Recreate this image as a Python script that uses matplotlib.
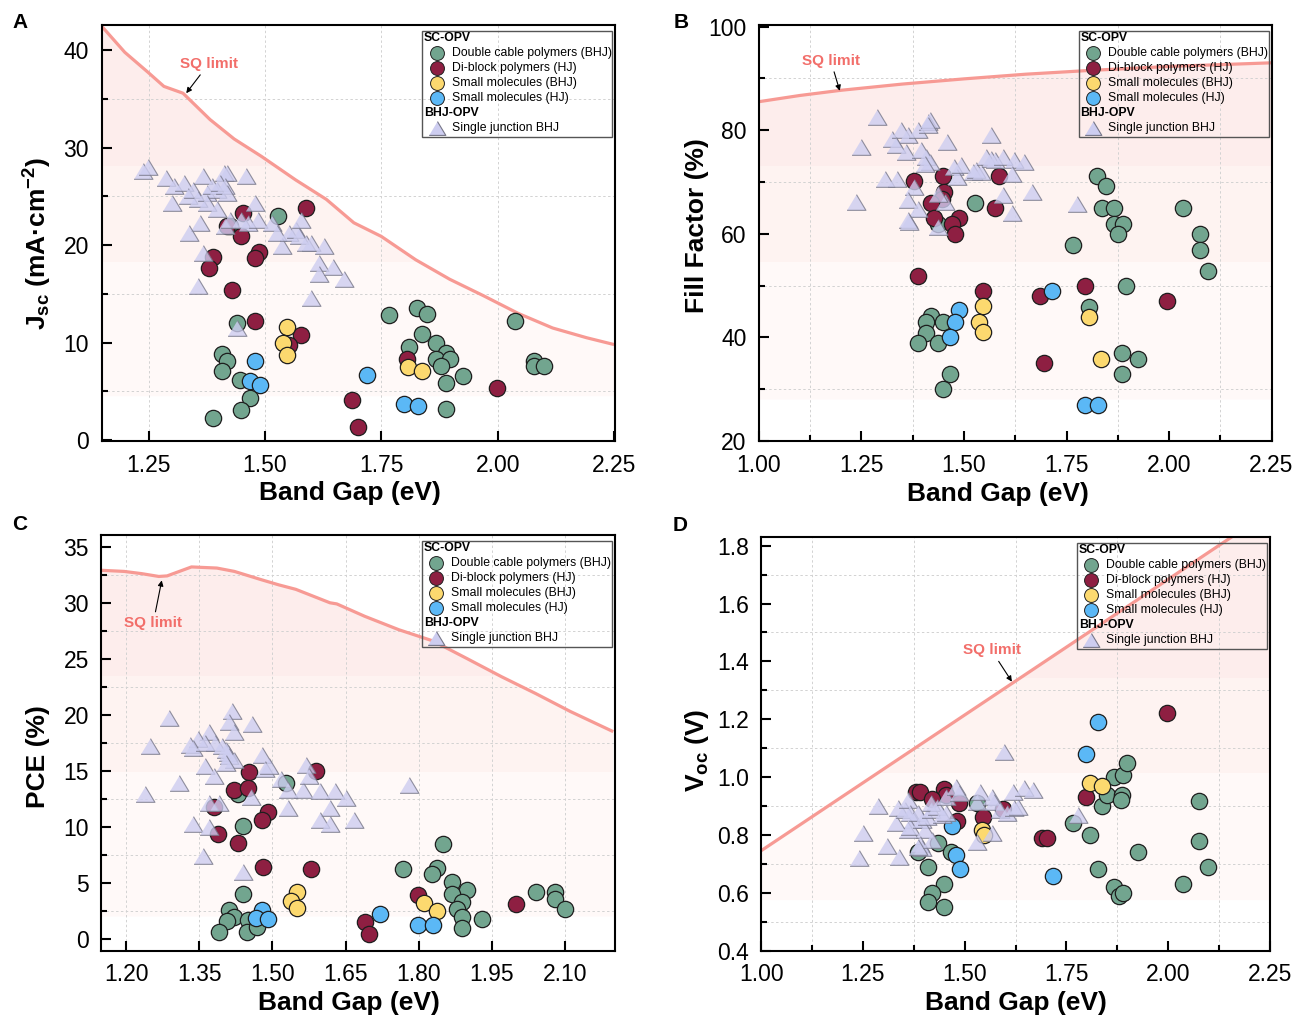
import numpy as np
import matplotlib
matplotlib.use('Agg')
import matplotlib.pyplot as plt
from matplotlib.patches import Polygon, Rectangle
from matplotlib.ticker import MultipleLocator, FormatStrFormatter

plt.rcParams['font.family'] = ['Liberation Sans', 'DejaVu Sans']
plt.rcParams['mathtext.fontset'] = 'custom'
plt.rcParams['mathtext.rm'] = 'Liberation Sans'
plt.rcParams['mathtext.bf'] = 'Liberation Sans:bold'
plt.rcParams['mathtext.it'] = 'Liberation Sans:italic'

# ==========================================
# colours
# ==========================================
C_GREEN = '#72a58f'
C_RED = '#8e1f42'
C_YEL = '#fcd96f'
C_BLUE = '#5bb8f6'
C_TRI = '#cdcdf0'
C_SQ = '#f79a94'
C_SQTXT = '#f26e6a'

# ==========================================
# data: A (Jsc)
# ==========================================
sq_a_x = [1.149, 1.199, 1.25, 1.283, 1.324, 1.382, 1.434, 1.493, 1.566, 1.632, 1.691,
          1.75, 1.824, 1.897, 1.97, 2.044, 2.118, 2.191, 2.25]
sq_a_y = [42.5, 39.8, 37.7, 36.3, 35.6, 32.9, 30.9, 29.1, 26.7, 24.7, 22.3,
          20.9, 18.5, 16.5, 14.8, 13.0, 11.5, 10.5, 9.8]

tri_a_x = [1.239, 1.249, 1.288, 1.305, 1.327, 1.368, 1.412, 1.419, 1.46, 1.301, 1.335, 1.346,
           1.357, 1.375, 1.386, 1.397, 1.404, 1.415, 1.419, 1.375, 1.397, 1.36, 1.338, 1.368,
           1.357, 1.415, 1.426, 1.448, 1.463, 1.478, 1.485, 1.515, 1.526, 1.537, 1.551, 1.566,
           1.573, 1.577, 1.588, 1.599, 1.628, 1.617, 1.617, 1.647, 1.669, 1.599, 1.441]
tri_a_y = [27.6, 28.0, 26.9, 26.1, 26.4, 27.1, 27.4, 27.4, 27.1, 24.3, 25.0, 25.7,
           24.7, 25.4, 26.1, 25.7, 26.4, 26.1, 25.4, 24.3, 23.7, 22.3, 21.3, 19.2,
           15.8, 22.0, 22.6, 22.6, 22.3, 24.3, 22.6, 22.3, 21.3, 19.9, 21.3, 21.6,
           20.9, 22.6, 20.2, 20.2, 19.9, 18.2, 17.0, 17.8, 16.5, 14.6, 11.5]
green_a_x = [1.528, 1.426, 1.44, 1.408, 1.419, 1.408, 1.446, 1.469, 1.449, 1.388, 1.767, 1.827,
             1.848, 1.837, 1.868, 1.809, 1.888, 1.868, 1.897, 1.879, 1.926, 1.888, 1.888,
             2.037, 2.077, 2.077, 2.099]
green_a_y = [23.0, 22.0, 12.0, 8.8, 8.1, 7.1, 6.2, 4.3, 3.1, 2.3, 12.8, 13.6,
             12.9, 10.9, 10.0, 9.5, 8.9, 8.3, 8.3, 7.6, 6.6, 5.9, 3.2,
             12.2, 8.1, 7.6, 7.6]
red_a_x = [1.588, 1.452, 1.419, 1.449, 1.388, 1.379, 1.487, 1.478, 1.429, 1.478, 1.577, 1.551,
           1.805, 1.687, 1.699, 1.998]
red_a_y = [23.8, 23.3, 22.0, 20.9, 18.8, 17.7, 19.3, 18.7, 15.4, 12.2, 10.8, 9.8,
           8.3, 4.1, 1.3, 5.3]
yel_a_x = [1.548, 1.538, 1.548, 1.807, 1.837]
yel_a_y = [11.6, 10.0, 8.7, 7.5, 7.1]
blue_a_x = [1.478, 1.468, 1.489, 1.719, 1.798, 1.829]
blue_a_y = [8.1, 6.1, 5.6, 6.7, 3.7, 3.5]

# ==========================================
# data: B (FF)
# ==========================================
sq_b_x = [1.0, 1.1, 1.2, 1.35, 1.5, 1.65, 1.8, 2.0, 2.25]
sq_b_y = [85.5, 86.7, 87.7, 88.9, 89.9, 90.8, 91.5, 92.3, 93.0]

tri_b_x = [1.2875, 1.25, 1.2375, 1.308, 1.3375, 1.325, 1.346, 1.3625, 1.333, 1.358, 1.3875,
           1.4125, 1.4167, 1.4125, 1.396, 1.408, 1.417, 1.404, 1.458, 1.5667, 1.379, 1.3625,
           1.3875, 1.3625, 1.367, 1.4375, 1.454, 1.475, 1.483, 1.492, 1.521, 1.529, 1.5417,
           1.554, 1.567, 1.575, 1.596, 1.621, 1.646, 1.617, 1.596, 1.617, 1.667, 1.775, 1.4375]
tri_b_y = [82.6, 76.8, 66.1, 70.5, 70.5, 78.2, 80.0, 79.0, 77.1, 75.8, 80.0,
           81.6, 81.9, 81.0, 76.1, 74.8, 73.9, 73.5, 77.7, 79.0, 69.0, 66.5,
           64.8, 62.6, 62.3, 61.3, 66.1, 72.9, 71.0, 73.2, 71.9, 72.3, 71.9,
           74.8, 74.5, 74.2, 74.8, 74.2, 73.9, 71.6, 67.4, 64.0, 68.1, 65.8, 67.7]
green_b_x = [1.5275, 1.4375, 1.419, 1.408, 1.448, 1.408, 1.3875, 1.4358, 1.467, 1.448, 1.825,
             1.846, 1.836, 1.867, 1.867, 1.8875, 1.875, 1.767, 1.896, 1.804, 1.886, 1.925,
             1.886, 2.035, 2.075, 2.075, 2.094]
green_b_y = [65.9, 61.9, 44.2, 42.9, 42.9, 40.8, 39.0, 39.0, 32.9, 30.0, 71.1,
             69.2, 65.0, 65.0, 61.9, 61.9, 60.0, 57.9, 49.9, 45.9, 37.0, 35.9,
             32.9, 65.0, 60.0, 56.9, 52.9]
red_b_x = [1.3775, 1.448, 1.4517, 1.446, 1.419, 1.4275, 1.4875, 1.471, 1.4775, 1.5858, 1.5758,
           1.3875, 1.5475, 1.686, 1.794, 1.696, 1.994]
red_b_y = [70.1, 71.1, 68.1, 66.8, 65.9, 63.0, 63.0, 61.9, 60.0, 71.1, 65.0,
           51.9, 49.0, 48.0, 50.0, 35.0, 47.0]
yel_b_x = [1.5475, 1.5375, 1.5475, 1.804, 1.835]
yel_b_y = [46.0, 42.9, 41.0, 44.0, 35.9]
blue_b_x = [1.4875, 1.4775, 1.467, 1.715, 1.796, 1.827]
blue_b_y = [45.2, 42.9, 40.0, 49.0, 27.0, 27.0]

# ==========================================
# data: C (PCE)
# ==========================================
sq_c_x = [1.149, 1.196, 1.232, 1.267, 1.284, 1.309, 1.334, 1.386, 1.422, 1.478, 1.513, 1.548,
          1.618, 1.632, 1.689, 1.759, 1.829, 1.9, 1.97, 2.04, 2.111, 2.199]
sq_c_y = [32.9, 32.8, 32.6, 32.35, 32.4, 32.8, 33.2, 33.1, 32.8, 32.05, 31.6, 31.2,
          30.0, 29.9, 28.8, 27.6, 26.6, 25.0, 23.4, 21.9, 20.3, 18.5]

tri_c_x = [1.288, 1.249, 1.238, 1.309, 1.418, 1.411, 1.422, 1.458, 1.369, 1.348, 1.330, 1.337,
           1.362, 1.383, 1.397, 1.404, 1.408, 1.411, 1.422, 1.404, 1.362, 1.380, 1.478, 1.485,
           1.492, 1.517, 1.531, 1.562, 1.569, 1.576, 1.597, 1.629, 1.650, 1.618, 1.597, 1.618,
           1.668, 1.531, 1.369, 1.390, 1.337, 1.369, 1.358, 1.439, 1.457, 1.780]
tri_c_y = [19.7, 17.2, 12.9, 13.9, 20.3, 19.4, 18.5, 19.2, 18.5, 17.8, 17.3, 17.0,
           17.5, 17.5, 17.2, 16.9, 16.6, 16.3, 16.0, 15.7, 15.4, 14.5, 16.4, 15.2,
           15.4, 14.3, 13.3, 13.3, 15.5, 14.5, 13.2, 13.2, 12.6, 11.7, 10.6, 10.3,
           10.6, 11.7, 12.1, 12.1, 10.3, 10.0, 7.4, 6.0, 12.7, 13.75]
green_c_x = [1.528, 1.429, 1.439, 1.439, 1.41, 1.422, 1.407, 1.39, 1.45, 1.448, 1.469, 1.849,
             1.838, 1.828, 1.768, 1.868, 1.9, 1.868, 1.888, 1.879, 1.888, 1.888, 1.929,
             2.04, 2.079, 2.079, 2.1]
green_c_y = [13.9, 12.9, 10.1, 4.0, 2.6, 2.0, 1.6, 0.6, 1.7, 0.6, 1.1, 8.5,
             6.3, 5.8, 6.25, 5.1, 4.4, 4.0, 3.3, 2.7, 2.0, 1.0, 1.8,
             4.2, 4.2, 3.6, 2.7]
red_c_x = [1.451, 1.589, 1.422, 1.449, 1.380, 1.49, 1.478, 1.388, 1.429, 1.48, 1.58, 1.689,
           1.699, 1.799, 2.0]
red_c_y = [14.9, 15.0, 13.3, 13.5, 11.8, 11.3, 10.6, 9.4, 8.6, 6.4, 6.2, 1.5,
           0.4, 3.9, 3.1]
yel_c_x = [1.55, 1.539, 1.55, 1.81, 1.838]
yel_c_y = [4.2, 3.4, 2.8, 3.2, 2.5]
blue_c_x = [1.479, 1.467, 1.49, 1.72, 1.799, 1.829]
blue_c_y = [2.6, 1.9, 1.75, 2.2, 1.2, 1.2]

# ==========================================
# data: D (Voc)
# ==========================================
sq_d_x = [1.0, 2.25]
sq_d_y = [0.746, 1.918]

tri_d_x = [1.239, 1.25, 1.309, 1.338, 1.288, 1.33, 1.336, 1.353, 1.361, 1.365, 1.374, 1.361,
           1.365, 1.386, 1.395, 1.403, 1.407, 1.416, 1.416, 1.433, 1.445, 1.454, 1.454, 1.479,
           1.487, 1.39, 1.394, 1.386, 1.42, 1.53, 1.538, 1.567, 1.572, 1.588, 1.605, 1.622,
           1.63, 1.618, 1.647, 1.668, 1.597, 1.53, 1.567, 1.778]
tri_d_y = [0.72, 0.806, 0.762, 0.725, 0.90, 0.843, 0.892, 0.886, 0.92, 0.875, 0.852, 0.817,
           0.827, 0.875, 0.852, 0.817, 0.863, 0.886, 0.91, 0.898, 0.869, 0.933, 0.875, 0.967,
           0.944, 0.77, 0.755, 0.76, 0.783, 0.915, 0.95, 0.933, 0.915, 0.886, 0.875, 0.892,
           0.898, 0.95, 0.961, 0.956, 1.088, 0.777, 0.806, 0.869]
green_d_x = [1.53, 1.435, 1.386, 1.466, 1.41, 1.45, 1.42, 1.41, 1.45, 1.767, 1.807, 1.837,
             1.849, 1.866, 1.89, 1.898, 1.887, 1.885, 1.925, 1.828, 1.868, 1.879, 1.89,
             2.077, 2.077, 2.098, 2.037]
green_d_y = [0.91, 0.771, 0.742, 0.742, 0.69, 0.63, 0.60, 0.57, 0.55, 0.84, 0.80, 0.90,
             0.938, 1.0, 1.008, 1.05, 0.938, 0.92, 0.74, 0.681, 0.621, 0.589, 0.6,
             0.919, 0.78, 0.688, 0.63]
red_d_x = [1.38, 1.39, 1.448, 1.454, 1.42, 1.487, 1.48, 1.546, 1.593, 1.689, 1.702, 1.797, 1.997]
red_d_y = [0.95, 0.95, 0.958, 0.938, 0.923, 0.91, 0.85, 0.863, 0.889, 0.79, 0.79, 0.93, 1.22]
yel_d_x = [1.542, 1.548, 1.807, 1.838]
yel_d_y = [0.817, 0.80, 0.981, 0.97]
blue_d_x = [1.469, 1.479, 1.489, 1.717, 1.797, 1.828]
blue_d_y = [0.831, 0.731, 0.681, 0.659, 1.079, 1.189]

LEGEND_LABELS = ['Double cable polymers (BHJ)', 'Di-block polymers (HJ)',
                 'Small molecules (BHJ)', 'Small molecules (HJ)']

# ==========================================
# figure
# ==========================================
FIG_W, FIG_H = 1300, 1016
fig = plt.figure(figsize=(FIG_W / 100, FIG_H / 100), dpi=100)

TRI = [(-1, -0.83), (1, -0.83), (0, 0.83)]


def px_axes(l, t, r, b):
    return fig.add_axes([l / FIG_W, 1 - b / FIG_H, (r - l) / FIG_W, (b - t) / FIG_H])


def sq_fill(ax, x, y, base):
    # pale pink banded fill under the SQ line
    verts = list(zip(x, y)) + [(x[-1], base), (x[0], base)]
    poly = Polygon(verts, closed=True, facecolor='none', edgecolor='none')
    ax.add_patch(poly)
    n = 400
    fr = np.linspace(0, 1, n)
    cols = np.ones((n, 1, 4))
    rgb_hi = np.array([253, 237, 236]) / 255
    rgb_mid = np.array([254, 243, 241]) / 255
    rgb_lo = np.array([255, 249, 248]) / 255
    for i, f in enumerate(fr):
        cols[i, 0, :3] = rgb_hi if f > 0.66 else (rgb_mid if f > 0.43 else rgb_lo)
    im = ax.imshow(cols, extent=[0, 1, 0, 1], transform=ax.transAxes, origin='lower',
                   aspect='auto', zorder=0, interpolation='nearest')
    im.set_clip_path(poly)


def style(ax, xlim, ylim, xmaj, xmin, ymaj, ymin, xfmt, yfmt, xgrid):
    ax.set_xlim(*xlim)
    ax.set_ylim(*ylim)
    ax.xaxis.set_major_locator(MultipleLocator(xmaj))
    if xmin:
        ax.xaxis.set_minor_locator(MultipleLocator(xmin))
    ax.yaxis.set_major_locator(MultipleLocator(ymaj))
    ax.yaxis.set_minor_locator(MultipleLocator(ymin))
    ax.xaxis.set_major_formatter(FormatStrFormatter(xfmt))
    ax.yaxis.set_major_formatter(FormatStrFormatter(yfmt))
    ax.tick_params(which='both', direction='in', top=False, right=False, width=1.5,
                   labelsize=16.5, pad=9)
    ax.tick_params(which='major', length=7)
    ax.tick_params(which='minor', length=4.5)
    for s in ax.spines.values():
        s.set_linewidth(1.5)
    gkw = dict(color='#d2d2d2', linestyle=(0, (2.5, 2.5)), linewidth=0.7)
    ax.xaxis.grid(True, which=xgrid, **gkw)
    ax.yaxis.grid(True, which='minor', **gkw)


def draw_key(ax):
    pos = ax.get_position()
    wpx, hpx = pos.width * FIG_W, pos.height * FIG_H

    def fx(dx):
        return 1 + dx / wpx

    def fy(dy):
        return 1 - dy / hpx

    ax.add_patch(Rectangle((fx(-193), fy(111.5)), 190 / wpx, 105.5 / hpx, transform=ax.transAxes,
                           facecolor='none', edgecolor='#555555', lw=1.0, zorder=6))
    tkw = dict(transform=ax.transAxes, fontsize=8.8, va='center', zorder=7)
    ax.text(fx(-191), fy(13), 'SC-OPV', fontweight='bold', ha='left', **tkw)
    for i, (lab, c) in enumerate(zip(LEGEND_LABELS, [C_GREEN, C_RED, C_YEL, C_BLUE])):
        yy = fy(28 + 15 * i)
        ax.plot([fx(-178.3)], [yy], marker='o', ms=10, mfc=c, mec='#222222', mew=0.7,
                transform=ax.transAxes, clip_on=False, zorder=7)
        ax.text(fx(-163.3), yy, lab, ha='left', **tkw)
    ax.text(fx(-191), fy(88), 'BHJ-OPV', fontweight='bold', ha='left', **tkw)
    ax.plot([fx(-178.3)], [fy(102.5)], marker=TRI, ms=12, mfc=C_TRI, mec='#777788', mew=0.8,
            transform=ax.transAxes, clip_on=False, zorder=7)
    ax.text(fx(-163.3), fy(102.5), 'Single junction BHJ', ha='left', **tkw)


def points(ax, tri, green, red, yel, blue):
    ckw = dict(s=138, edgecolors='#1e1e1e', linewidths=0.9, zorder=3)
    ax.scatter(*green, c=C_GREEN, **ckw)
    ax.scatter(*red, c=C_RED, **ckw)
    ax.scatter(*yel, c=C_YEL, **ckw)
    ax.scatter(*blue, c=C_BLUE, **ckw)
    ax.scatter(*tri, marker=TRI, s=185, c=C_TRI, edgecolors='#777788', linewidths=0.8,
               alpha=0.8, zorder=4)


def sq(ax, x, y, base, txt_xy, tip_xy):
    sq_fill(ax, x, y, base)
    ax.plot(x, y, color=C_SQ, lw=2.3, zorder=2, solid_capstyle='butt')
    ax.annotate('SQ limit', xy=tip_xy, xytext=txt_xy, color=C_SQTXT, fontweight='bold',
                fontsize=11, ha='center', va='center', zorder=5,
                arrowprops=dict(arrowstyle='-|>', color='black', lw=0.8, mutation_scale=8,
                                shrinkA=1, shrinkB=0))


def labels(ax, xl, yl, xpos, ypos, letter, lpx):
    ax.set_xlabel(xl, fontsize=19, fontweight='bold', va='center')
    ax.xaxis.set_label_coords(*xpos)
    ax.set_ylabel(yl, fontsize=19, fontweight='bold', va='center')
    ax.yaxis.set_label_coords(*ypos)
    fig.text(lpx[0] / FIG_W, 1 - lpx[1] / FIG_H, letter, fontsize=15, fontweight='bold',
             ha='center', va='center')


# ---- A
axA = px_axes(101.5, 25, 615, 441)
sq(axA, sq_a_x, sq_a_y, 4.5, (1.379, 38.6), (1.331, 35.6))
points(axA, (tri_a_x, tri_a_y), (green_a_x, green_a_y), (red_a_x, red_a_y),
       (yel_a_x, yel_a_y), (blue_a_x, blue_a_y))
style(axA, (1.149, 2.252), (-0.1, 42.6), 0.25, None, 10, 5, '%.2f', '%d', 'major')
labels(axA, 'Band Gap (eV)', r'$\mathbf{J_{sc}}$ (mA·cm$^{\mathbf{-2}}$)',
       (0.484, -0.125), (-0.124, 0.474), 'A', (20.5, 22.5))
draw_key(axA)

# ---- B
axB = px_axes(759, 25, 1271.5, 441)
sq(axB, sq_b_x, sq_b_y, 28, (1.175, 93.4), (1.197, 87.6))
points(axB, (tri_b_x, tri_b_y), (green_b_x, green_b_y), (red_b_x, red_b_y),
       (yel_b_x, yel_b_y), (blue_b_x, blue_b_y))
style(axB, (1.0, 2.25), (20, 100.3), 0.25, 0.125, 20, 10, '%.2f', '%d', 'minor')
labels(axB, 'Band Gap (eV)', 'Fill Factor (%)', (0.466, -0.127), (-0.121, 0.517), 'B',
       (681, 22.5))
draw_key(axB)

# ---- C
axC = px_axes(101.3, 535, 614.7, 950.7)
sq(axC, sq_c_x, sq_c_y, 2.0, (1.2555, 28.2), (1.273, 32.0))
points(axC, (tri_c_x, tri_c_y), (green_c_x, green_c_y), (red_c_x, red_c_y),
       (yel_c_x, yel_c_y), (blue_c_x, blue_c_y))
style(axC, (1.149, 2.202), (-1.05, 36.05), 0.15, None, 5, 2.5, '%.2f', '%d', 'major')
labels(axC, 'Band Gap (eV)', 'PCE (%)', (0.482, -0.126), (-0.124, 0.466), 'C', (20, 525))
draw_key(axC)

# ---- D
axD = px_axes(761.3, 537, 1269.8, 950.7)
sq(axD, sq_d_x, sq_d_y, 0.575, (1.566, 1.438), (1.616, 1.330))
points(axD, (tri_d_x, tri_d_y), (green_d_x, green_d_y), (red_d_x, red_d_y),
       (yel_d_x, yel_d_y), (blue_d_x, blue_d_y))
style(axD, (1.0, 2.25), (0.4, 1.83), 0.25, 0.125, 0.2, 0.1, '%.2f', '%.1f', 'minor')
labels(axD, 'Band Gap (eV)', r'$\mathbf{V_{oc}}$ (V)', (0.501, -0.127), (-0.126, 0.485), 'D',
       (680.5, 525.5))
draw_key(axD)

fig.savefig('out.png', dpi=100)
